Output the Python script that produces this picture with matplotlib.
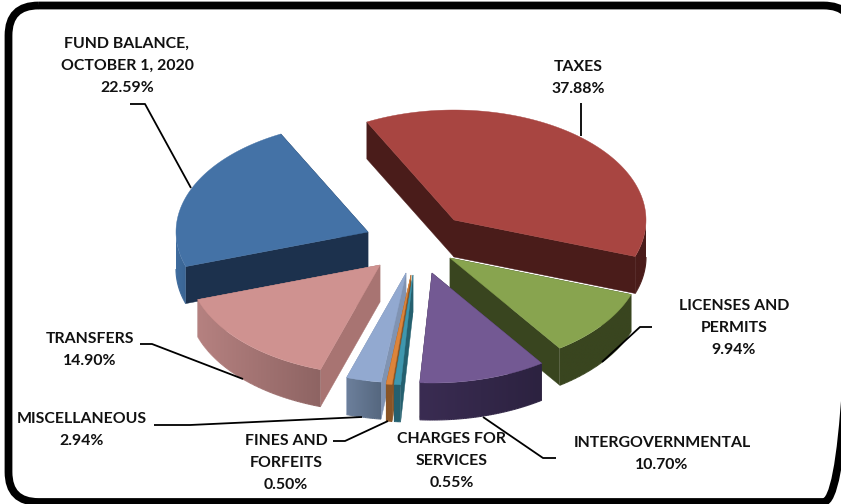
import numpy as np
import matplotlib
matplotlib.use("Agg")
import matplotlib.pyplot as plt
from matplotlib.collections import LineCollection
from matplotlib.patches import FancyBboxPatch, Polygon
from matplotlib.colors import LinearSegmentedColormap

categories = ["TAXES", "LICENSES AND\nPERMITS", "INTERGOVERNMENTAL", "CHARGES FOR\nSERVICES",
              "FINES AND\nFORFEITS", "MISCELLANEOUS", "TRANSFERS", "FUND BALANCE,\nOCTOBER 1, 2020"]
percents = [37.88, 9.94, 10.70, 0.55, 0.50, 2.94, 14.90, 22.59]

# pixel layout of the exploded pie
START_ANGLE = -27
RX, RY = 192, 110
DEPTH = 37
tips = [(454, 220), (450, 258), (432, 273), (413, 275), (411, 275), (406, 273), (380, 265), (368, 232)]
draw_order = [0, 7, 1, 6, 2, 5, 4, 3]

top_colors = ["#A84541", "#88A44F", "#735993", "#3F97AE", "#DD843A", "#92A9D0", "#CF9290", "#4472A6"]
face_colors = ["#4A1C1A", "#39451F", "#2F2440", "#25606F", "#8A5526", "#8093B2", "#A87472", "#1C314D"]
rim_left = ["#4A1C1A", "#39451F", "#3A2C52", "#25606F", "#8A5526", "#6C7F9B", "#B58180", "#3F6C9E"]
rim_right = ["#4A1C1A", "#39451F", "#2C2240", "#25606F", "#8A5526", "#55677F", "#8E6463", "#3A6594"]

label_pos = [(578, 78), (734, 328), (662, 454), (452, 461), (286, 463), (82, 430), (90, 350), (127, 66)]
leaders = [
    [(581, 103), (581, 136)],
    [(652, 327), (640, 327), (602, 362)],
    [(483, 417), (543, 458), (556, 458)],
    [],
    [(333, 441), (345, 441), (388, 421)],
    [(154, 425), (190, 425), (362, 417)],
    [(140, 344), (152, 344), (243, 379)],
    [(130, 104), (145, 104), (191, 188)],
]


def rim_point(tip, angle):
    a = np.radians(angle)
    return tip[0] + RX * np.sin(a), tip[1] - RY * np.cos(a)


def draw_wall(ax, i, a0, a1, z):
    # only the front half of the rim is ever seen
    lo, hi = max(a0, 90), min(a1, 270)
    if hi <= lo:
        return
    xs, ys = rim_point(tips[i], np.linspace(lo, hi, max(int(hi - lo) * 2, 6)))
    cmap = LinearSegmentedColormap.from_list("wall", [rim_left[i], rim_right[i]])
    band = list(zip(xs, ys)) + list(zip(xs[::-1], ys[::-1] + DEPTH))
    x0, x1 = xs.min(), xs.max()
    grad = np.linspace(0, 1, 64).reshape(1, -1)
    im = ax.imshow(grad, cmap=cmap, extent=(x0, x1, ys.max() + DEPTH, ys.min()), aspect="auto",
                   interpolation="bilinear", zorder=z)
    im.set_clip_path(Polygon(band, transform=ax.transData))

    # soft lower edge for the clipped wall
    pts = np.column_stack([xs, ys + DEPTH])
    segs = np.stack([pts[:-1], pts[1:]], axis=1)
    t = (xs[:-1] - x0) / max(x1 - x0, 1)
    ax.add_collection(LineCollection(segs, colors=cmap(t), lw=0.8, zorder=z + 0.1))


def draw_slice(ax, i, a0, a1, z):
    tip = tips[i]
    xs, ys = rim_point(tip, np.linspace(a0, a1, max(int(a1 - a0) * 2, 6)))

    # cut faces first, the top hides whichever one faces away
    for x, y in ((xs[0], ys[0]), (xs[-1], ys[-1])):
        face = [tip, (x, y), (x, y + DEPTH), (tip[0], tip[1] + DEPTH)]
        ax.add_patch(Polygon(face, fc=face_colors[i], ec=face_colors[i], lw=0.3, zorder=z))

    draw_wall(ax, i, a0, a1, z + 0.1)

    top = [tip] + list(zip(xs, ys))
    ax.add_patch(Polygon(top, fc=top_colors[i], ec=top_colors[i], lw=0.3, zorder=z + 0.3))


fig = plt.figure(figsize=(8.41, 5.04), dpi=100)
ax = fig.add_axes([0, 0, 1, 1])
ax.axis("off")

edges = START_ANGLE + np.concatenate([[0], np.cumsum(percents)]) * 3.6
for n, i in enumerate(draw_order):
    draw_slice(ax, i, edges[i], edges[i + 1], 1 + n)

ax.set_xlim(0, 841)
ax.set_ylim(504, 0)

for pts in leaders:
    if pts:
        ax.plot(*zip(*pts), color="black", lw=1.3, solid_capstyle="butt", zorder=20)

for name, pct, (x, y) in zip(categories, percents, label_pos):
    ax.text(x, y, f"{name}\n{pct:.2f}%", ha="center", va="center", family="Lato", weight="bold",
            fontsize=11.4, color="#111111", linespacing=1.75, zorder=21)

# rounded frame, its right side runs off the canvas
frame = FancyBboxPatch((8.5, 5.5), 845, 496.5, boxstyle="round,pad=0,rounding_size=30",
                       fc="none", ec="black", lw=5.6, zorder=22)
ax.add_patch(frame)

fig.savefig("out.png", dpi=100)
